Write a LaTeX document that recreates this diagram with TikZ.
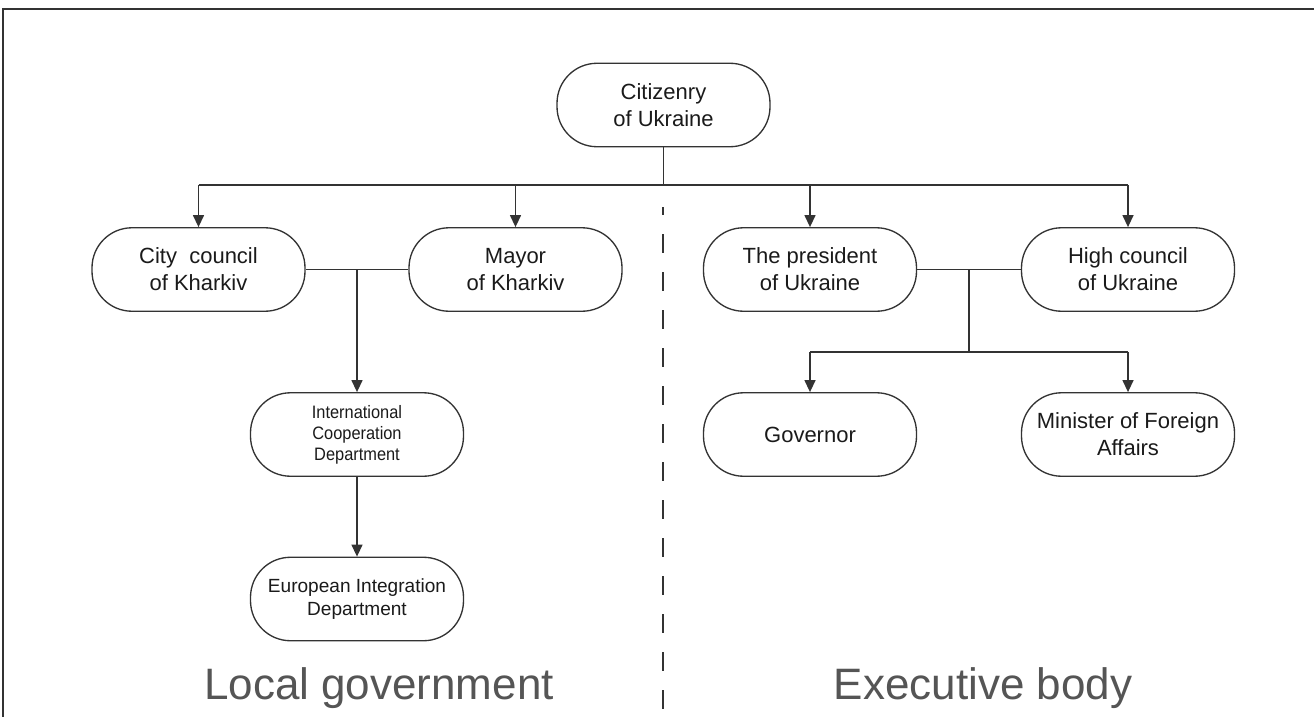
\documentclass[tikz,border=0pt]{standalone}
\usepackage{fontspec}
\setmainfont{Liberation Sans}
\newfontfamily\narrowsans[FakeStretch=0.91]{Liberation Sans}
\usetikzlibrary{arrows.meta,calc}
\definecolor{linegray}{HTML}{333333}
\definecolor{textdark}{HTML}{1A1A1A}
\definecolor{titlegray}{HTML}{555555}
\begin{document}
\begin{tikzpicture}[x=0.75pt,y=-0.75pt,
  orgbox/.style={draw=linegray, line width=1pt, rounded corners=30pt,
    minimum width=159.75pt, minimum height=62.6pt, align=center,
    inner sep=0pt, text=textdark, font=\fontsize{16.5}{20.25}\selectfont},
  smallbox/.style={orgbox, font=\narrowsans\fontsize{13.5}{15.75}\selectfont},
  eurobox/.style={orgbox, font=\fontsize{14.3}{17.25}\selectfont},
  conn/.style={draw=linegray, line width=1pt},
  arr/.style={conn, -{Triangle[length=9pt,width=8.25pt]}},
  frameline/.style={draw=linegray, line width=1.3pt},
  divider/.style={draw=linegray, line width=0.9pt, dash pattern=on 14.25pt off 14.25pt, dash phase=8.25pt},
  sectiontitle/.style={anchor=base, text=titlegray, inner sep=0pt, font=\fontsize{33}{40}\selectfont}
]
\useasboundingbox (0,0) rectangle (1314,717);

% frame
\coordinate (fbl) at (3,717);
\coordinate (ftl) at (3,9);
\coordinate (ftr) at (1314,9);
\draw[frameline] (fbl) -- (ftl) -- (ftr);

% nodes
\node[orgbox] (cit) at (663.5,105) {Citizenry\\of Ukraine};
\node[orgbox] (city) at (198.5,269.5) {City\ \ council\\of Kharkiv};
\node[orgbox] (mayor) at (515.5,269.5) {Mayor\\of Kharkiv};
\node[smallbox] (intl) at (357,434.5) {International\\Cooperation\\Department};
\node[eurobox] (euro) at (357,599) {European Integration\\Department};
\node[orgbox] (pres) at (810,269.5) {The president\\of Ukraine};
\node[orgbox] (high) at (1128,269.5) {High council\\of Ukraine};
\node[orgbox] (gov) at (810,434.5) {Governor};
\node[orgbox] (mini) at (1128,434.5) {Minister of Foreign\\Affairs};

% top distribution
\coordinate (topbar) at (663.5,185);
\draw[conn] (cit.south) -- (cit.south |- topbar);
\draw[conn] (city.north |- topbar) -- (high.north |- topbar);
\draw[arr] (city.north |- topbar) -- (city.north);
\draw[arr] (mayor.north |- topbar) -- (mayor.north);
\draw[arr] (pres.north |- topbar) -- (pres.north);
\draw[arr] (high.north |- topbar) -- (high.north);

% left branch
\draw[conn] (city.east) -- (mayor.west);
\coordinate (lj) at ($(city.east)!0.5!(mayor.west)$);
\draw[arr] (lj) -- (lj |- intl.north);
\draw[arr] (intl.south) -- (euro.north);

% right branch
\draw[conn] (pres.east) -- (high.west);
\coordinate (rj) at ($(pres.east)!0.5!(high.west)$);
\coordinate (rbar) at (969,352);
\draw[conn] (rj) -- (rj |- rbar);
\draw[conn] (gov.north |- rbar) -- (mini.north |- rbar);
\draw[arr] (gov.north |- rbar) -- (gov.north);
\draw[arr] (mini.north |- rbar) -- (mini.north);

% divider
\coordinate (dtop) at (663,207);
\coordinate (dbot) at (663,717);
\draw[divider] (dtop) -- (dbot);

% section titles
\node[sectiontitle] (loc) at (379,699) {Local government};
\node[sectiontitle] (exe) at (983,699) {Executive body};
\end{tikzpicture}
\end{document}
